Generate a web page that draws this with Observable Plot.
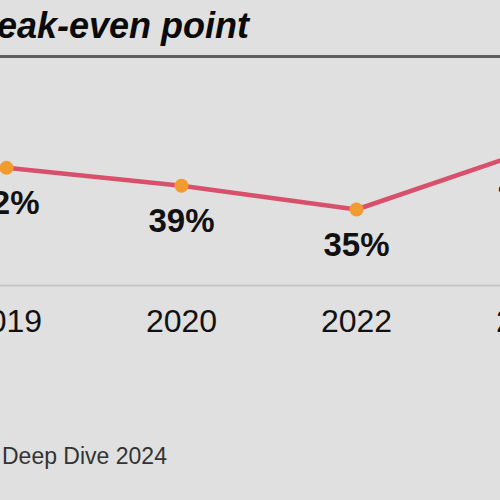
<!DOCTYPE html>
<html>
<head>
<meta charset="utf-8">
<script src="https://cdn.jsdelivr.net/npm/d3@7"></script>
<script src="https://cdn.jsdelivr.net/npm/@observablehq/plot@0.6"></script>
<style>
  html, body { margin: 0; padding: 0; background: #e0e0e0; }
  #page {
    position: relative; width: 500px; height: 500px; overflow: hidden;
    background: #e0e0e0; font-family: "Liberation Sans", Arial, Helvetica, sans-serif;
  }
  #head { position: relative; height: 55px; }
  #title {
    position: absolute; left: -39px; top: 8px; margin: 0; white-space: nowrap;
    font-size: 36px; line-height: 36px; font-weight: bold; font-style: italic; color: #0a0a0a;
  }
  #rule { height: 3px; background: #5e5e5e; }
  #chart { height: 360px; overflow: hidden; }
  #chart svg { display: block; }
  #caption {
    margin: 27px 0 0 2px; font-size: 23px; line-height: 23px; color: #333; white-space: nowrap;
  }
</style>
</head>
<body>
<div id="page">
  <div id="head"><div id="title">break-even point</div></div>
  <div id="rule"></div>
  <div id="chart"></div>
  <div id="caption">Deep Dive 2024</div>
</div>
<script>
const years = ["2019", "2020", "2022", "2023"];
const shares = [42, 39, 35, 45];
const shareLabels = ["42%", "39%", "35%", "45%"];

const data = years.map((year, i) => ({ year, share: shares[i], label: shareLabels[i] }));

const chart = Plot.plot({
  width: 500,
  height: 360,
  marginTop: 0,
  marginLeft: 0,
  marginRight: 0,
  marginBottom: 133,
  style: { background: "transparent", fontFamily: "'Liberation Sans', Arial, Helvetica, sans-serif", overflow: "hidden" },
  x: { type: "point", domain: years, range: [5, 532], padding: 0, label: null, axis: null },
  y: { domain: [35, 45], range: [151, 91.5], label: null, axis: null },
  marks: [
    Plot.frame({ anchor: "bottom", stroke: "#c6c6c6", strokeWidth: 2 }),
    Plot.axisX({ tickSize: 0, tickPadding: 24, fontSize: 32, fill: "#111", label: null }),
    Plot.line(data, { x: "year", y: "share", stroke: "#d9506d", strokeWidth: 4.5 }),
    Plot.dot(data, { x: "year", y: "share", r: 7, fill: "#f29b30", stroke: "none" }),
    Plot.text(data, { x: "year", y: "share", text: "label", dy: 46, lineAnchor: "bottom",
      fontSize: 33, fontWeight: "bold", fill: "#111" })
  ]
});
document.getElementById("chart").appendChild(chart);
</script>
</body>
</html>
